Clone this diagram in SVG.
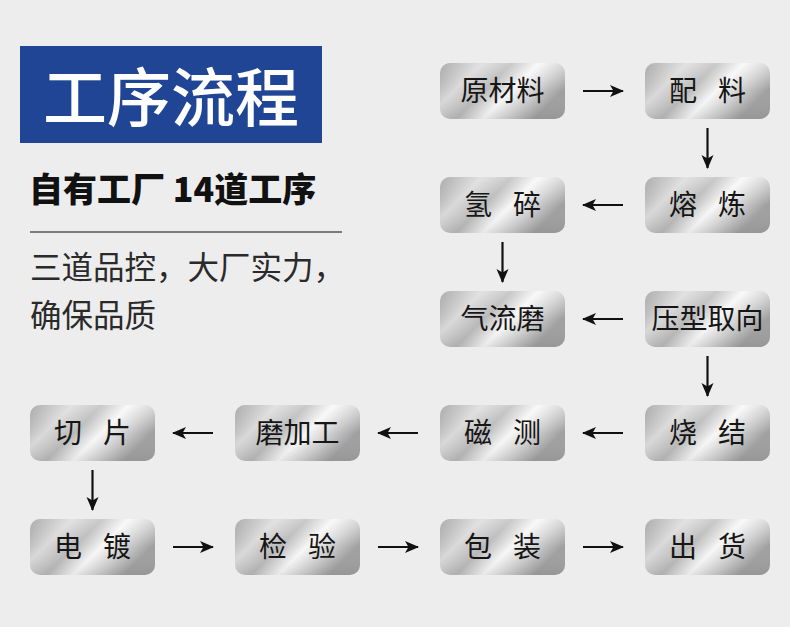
<svg xmlns="http://www.w3.org/2000/svg" width="790" height="627" viewBox="0 0 790 627">
<defs>
<linearGradient id="metal" x1="0" y1="0" x2="1" y2="0.45">
<stop offset="0" stop-color="#949494"/>
<stop offset="0.28" stop-color="#d9d9d9"/>
<stop offset="0.48" stop-color="#b9b9b9"/>
<stop offset="0.66" stop-color="#f7f7f7"/>
<stop offset="0.82" stop-color="#d0d0d0"/>
<stop offset="1" stop-color="#a0a0a0"/>
</linearGradient>
<linearGradient id="sheen" x1="0" y1="0" x2="0" y2="1">
<stop offset="0" stop-color="#ffffff" stop-opacity="0.25"/>
<stop offset="0.5" stop-color="#ffffff" stop-opacity="0"/>
<stop offset="1" stop-color="#000000" stop-opacity="0.06"/>
</linearGradient>
<marker id="ah" markerUnits="userSpaceOnUse" markerWidth="15" markerHeight="13" refX="13" refY="6.5" orient="auto">
<path d="M0,0.5 L14,6.5 L0,12.5 L3.5,6.5 z" fill="#111"/>
</marker>
</defs>
<style>
.bg{fill:#ededed}
.node rect.b{fill:url(#metal)}
.node rect.s{fill:url(#sheen)}
.lbl{font-family:"Noto Sans CJK SC","Noto Sans",sans-serif;font-size:28px;fill:#161616;text-anchor:middle}
.arr line{stroke:#111;stroke-width:2.2;marker-end:url(#ah)}
</style>
<rect class="bg" x="0" y="0" width="790" height="627"/>

<g id="title">
<rect x="20" y="46" width="302" height="97" fill="#1f4594"/>
<text x="171" y="121" font-family="'Noto Sans CJK SC','Noto Sans',sans-serif" font-size="64" font-weight="500" fill="#ffffff" text-anchor="middle">工序流程</text>
</g>
<g id="intro">
<text x="29" y="202" font-family="'Noto Sans CJK SC','Noto Sans',sans-serif" font-size="34" font-weight="900" fill="#111">自有工厂 14道工序</text>
<line x1="30" y1="232" x2="342" y2="232" stroke="#555" stroke-width="1.5"/>
<text x="30" y="279" font-family="'Noto Sans CJK SC','Noto Sans',sans-serif" font-size="31.5" fill="#2a2a2a">三道品控，大厂实力，</text>
<text x="30" y="327" font-family="'Noto Sans CJK SC','Noto Sans',sans-serif" font-size="31.5" fill="#2a2a2a">确保品质</text>
</g>

<g id="n-yuancailiao" class="node"><rect class="b" x="440" y="63" width="125" height="56" rx="10"/><rect class="s" x="440" y="63" width="125" height="56" rx="10"/><text class="lbl" x="502.5" y="101">原材料</text></g>
<g id="n-peiliao" class="node"><rect class="b" x="645" y="63" width="125" height="56" rx="10"/><rect class="s" x="645" y="63" width="125" height="56" rx="10"/><text class="lbl" x="683 732" y="101">配料</text></g>
<g id="n-ronglian" class="node"><rect class="b" x="645" y="177" width="125" height="56" rx="10"/><rect class="s" x="645" y="177" width="125" height="56" rx="10"/><text class="lbl" x="683 732" y="215">熔炼</text></g>
<g id="n-qingsui" class="node"><rect class="b" x="440" y="177" width="125" height="56" rx="10"/><rect class="s" x="440" y="177" width="125" height="56" rx="10"/><text class="lbl" x="478 527" y="215">氢碎</text></g>
<g id="n-qiliumo" class="node"><rect class="b" x="440" y="291" width="125" height="56" rx="10"/><rect class="s" x="440" y="291" width="125" height="56" rx="10"/><text class="lbl" x="502.5" y="329">气流磨</text></g>
<g id="n-yaxingquxiang" class="node"><rect class="b" x="645" y="291" width="125" height="56" rx="10"/><rect class="s" x="645" y="291" width="125" height="56" rx="10"/><text class="lbl" x="707.5" y="329">压型取向</text></g>
<g id="n-shaojie" class="node"><rect class="b" x="645" y="405" width="125" height="56" rx="10"/><rect class="s" x="645" y="405" width="125" height="56" rx="10"/><text class="lbl" x="683 732" y="443">烧结</text></g>
<g id="n-cice" class="node"><rect class="b" x="440" y="405" width="125" height="56" rx="10"/><rect class="s" x="440" y="405" width="125" height="56" rx="10"/><text class="lbl" x="478 527" y="443">磁测</text></g>
<g id="n-mojiagong" class="node"><rect class="b" x="235" y="405" width="125" height="56" rx="10"/><rect class="s" x="235" y="405" width="125" height="56" rx="10"/><text class="lbl" x="297.5" y="443">磨加工</text></g>
<g id="n-qiepian" class="node"><rect class="b" x="30" y="405" width="125" height="56" rx="10"/><rect class="s" x="30" y="405" width="125" height="56" rx="10"/><text class="lbl" x="68 117" y="443">切片</text></g>
<g id="n-diandu" class="node"><rect class="b" x="30" y="519" width="125" height="56" rx="10"/><rect class="s" x="30" y="519" width="125" height="56" rx="10"/><text class="lbl" x="68 117" y="557">电镀</text></g>
<g id="n-jianyan" class="node"><rect class="b" x="235" y="519" width="125" height="56" rx="10"/><rect class="s" x="235" y="519" width="125" height="56" rx="10"/><text class="lbl" x="273 322" y="557">检验</text></g>
<g id="n-baozhuang" class="node"><rect class="b" x="440" y="519" width="125" height="56" rx="10"/><rect class="s" x="440" y="519" width="125" height="56" rx="10"/><text class="lbl" x="478 527" y="557">包装</text></g>
<g id="n-chuhuo" class="node"><rect class="b" x="645" y="519" width="125" height="56" rx="10"/><rect class="s" x="645" y="519" width="125" height="56" rx="10"/><text class="lbl" x="683 732" y="557">出货</text></g>

<g id="connectors" class="arr">
<line x1="583" y1="91" x2="623" y2="91"/>
<line x1="707.5" y1="128" x2="707.5" y2="168"/>
<line x1="623" y1="205" x2="583" y2="205"/>
<line x1="502.5" y1="242" x2="502.5" y2="282"/>
<line x1="623" y1="319" x2="583" y2="319"/>
<line x1="707.5" y1="356" x2="707.5" y2="396"/>
<line x1="623" y1="433" x2="583" y2="433"/>
<line x1="418" y1="433" x2="378" y2="433"/>
<line x1="213" y1="433" x2="173" y2="433"/>
<line x1="92.5" y1="470" x2="92.5" y2="510"/>
<line x1="173" y1="547" x2="213" y2="547"/>
<line x1="378" y1="547" x2="418" y2="547"/>
<line x1="583" y1="547" x2="623" y2="547"/>
</g>
</svg>
